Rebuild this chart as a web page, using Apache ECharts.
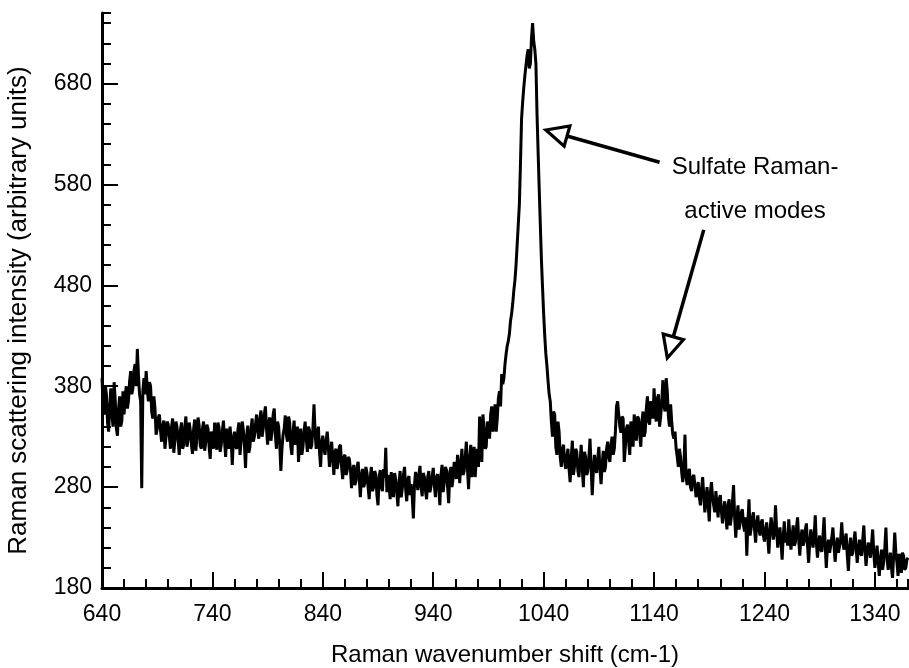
<!DOCTYPE html>
<html><head><meta charset="utf-8">
<script src="https://cdn.jsdelivr.net/npm/echarts@6/dist/echarts.min.js"></script>
<style>html,body{margin:0;padding:0;background:#fff}#c{width:909px;height:668px}</style>
</head><body><div id="c"></div>
<script>
// Raman shift (cm-1), one sample per wavenumber
const shift = [
640,641,642,643,644,645,646,647,648,649,650,651,652,653,654,655,656,657,658,659,
660,661,662,663,664,665,666,667,668,669,670,671,672,673,674,675,676,677,678,679,
680,681,682,683,684,685,686,687,688,689,690,691,692,693,694,695,696,697,698,699,
700,701,702,703,704,705,706,707,708,709,710,711,712,713,714,715,716,717,718,719,
720,721,722,723,724,725,726,727,728,729,730,731,732,733,734,735,736,737,738,739,
740,741,742,743,744,745,746,747,748,749,750,751,752,753,754,755,756,757,758,759,
760,761,762,763,764,765,766,767,768,769,770,771,772,773,774,775,776,777,778,779,
780,781,782,783,784,785,786,787,788,789,790,791,792,793,794,795,796,797,798,799,
800,801,802,803,804,805,806,807,808,809,810,811,812,813,814,815,816,817,818,819,
820,821,822,823,824,825,826,827,828,829,830,831,832,833,834,835,836,837,838,839,
840,841,842,843,844,845,846,847,848,849,850,851,852,853,854,855,856,857,858,859,
860,861,862,863,864,865,866,867,868,869,870,871,872,873,874,875,876,877,878,879,
880,881,882,883,884,885,886,887,888,889,890,891,892,893,894,895,896,897,898,899,
900,901,902,903,904,905,906,907,908,909,910,911,912,913,914,915,916,917,918,919,
920,921,922,923,924,925,926,927,928,929,930,931,932,933,934,935,936,937,938,939,
940,941,942,943,944,945,946,947,948,949,950,951,952,953,954,955,956,957,958,959,
960,961,962,963,964,965,966,967,968,969,970,971,972,973,974,975,976,977,978,979,
980,981,982,983,984,985,986,987,988,989,990,991,992,993,994,995,996,997,998,999,
1000,1001,1002,1003,1004,1005,1006,1007,1008,1009,1010,1011,1012,1013,1014,1015,1016,1017,1018,1019,
1020,1021,1022,1023,1024,1025,1026,1027,1028,1029,1030,1031,1032,1033,1034,1035,1036,1037,1038,1039,
1040,1041,1042,1043,1044,1045,1046,1047,1048,1049,1050,1051,1052,1053,1054,1055,1056,1057,1058,1059,
1060,1061,1062,1063,1064,1065,1066,1067,1068,1069,1070,1071,1072,1073,1074,1075,1076,1077,1078,1079,
1080,1081,1082,1083,1084,1085,1086,1087,1088,1089,1090,1091,1092,1093,1094,1095,1096,1097,1098,1099,
1100,1101,1102,1103,1104,1105,1106,1107,1108,1109,1110,1111,1112,1113,1114,1115,1116,1117,1118,1119,
1120,1121,1122,1123,1124,1125,1126,1127,1128,1129,1130,1131,1132,1133,1134,1135,1136,1137,1138,1139,
1140,1141,1142,1143,1144,1145,1146,1147,1148,1149,1150,1151,1152,1153,1154,1155,1156,1157,1158,1159,
1160,1161,1162,1163,1164,1165,1166,1167,1168,1169,1170,1171,1172,1173,1174,1175,1176,1177,1178,1179,
1180,1181,1182,1183,1184,1185,1186,1187,1188,1189,1190,1191,1192,1193,1194,1195,1196,1197,1198,1199,
1200,1201,1202,1203,1204,1205,1206,1207,1208,1209,1210,1211,1212,1213,1214,1215,1216,1217,1218,1219,
1220,1221,1222,1223,1224,1225,1226,1227,1228,1229,1230,1231,1232,1233,1234,1235,1236,1237,1238,1239,
1240,1241,1242,1243,1244,1245,1246,1247,1248,1249,1250,1251,1252,1253,1254,1255,1256,1257,1258,1259,
1260,1261,1262,1263,1264,1265,1266,1267,1268,1269,1270,1271,1272,1273,1274,1275,1276,1277,1278,1279,
1280,1281,1282,1283,1284,1285,1286,1287,1288,1289,1290,1291,1292,1293,1294,1295,1296,1297,1298,1299,
1300,1301,1302,1303,1304,1305,1306,1307,1308,1309,1310,1311,1312,1313,1314,1315,1316,1317,1318,1319,
1320,1321,1322,1323,1324,1325,1326,1327,1328,1329,1330,1331,1332,1333,1334,1335,1336,1337,1338,1339,
1340,1341,1342,1343,1344,1345,1346,1347,1348,1349,1350,1351,1352,1353,1354,1355,1356,1357,1358,1359,
1360,1361,1362,1363,1364,1365,1366,1367,1368,1369,1370
];
// Raman scattering intensity (arbitrary units)
const intensity = [
388,362,352,381,372,344,335,360,378,352,340,384,366,338,331,358,370,340,346,375,
352,371,380,358,366,385,395,372,378,396,402,380,417,392,372,365,279,375,388,372,
395,378,365,384,380,355,348,370,358,332,338,349,352,336,325,340,346,318,330,345,
342,330,318,340,348,314,326,345,339,325,312,336,344,318,322,340,350,320,328,344,
336,322,313,338,347,316,330,349,341,321,318,338,345,316,325,342,338,320,308,335,
332,318,344,328,317,344,339,315,322,336,346,325,310,338,330,318,340,326,302,328,
335,320,318,336,344,312,326,345,337,322,299,330,341,314,320,338,348,325,330,342,
352,336,328,348,356,330,338,352,360,338,322,345,349,326,335,352,358,332,318,345,
340,322,296,318,332,338,351,332,325,350,344,320,312,335,346,322,330,340,305,328,
338,312,320,335,345,328,315,340,336,318,322,338,362,335,318,332,340,315,300,325,
331,318,312,326,335,320,300,312,325,308,292,315,318,298,305,320,322,300,288,310,
312,292,296,310,308,298,279,295,302,282,286,300,305,288,270,292,298,280,284,300,
294,280,268,290,300,276,280,296,292,272,262,290,297,280,276,298,289,319,275,292,
281,268,295,280,270,294,288,275,261,284,296,270,279,292,300,278,266,288,291,272,
283,270,249,282,295,288,277,292,301,280,271,294,290,276,268,290,296,275,281,290,
299,282,270,290,293,280,262,292,302,275,285,300,297,280,264,295,300,280,289,305,
298,288,312,300,284,305,318,292,296,310,325,298,278,308,322,290,305,320,290,308,
318,300,350,328,305,352,338,318,320,345,340,328,352,360,335,342,362,335,348,368,
375,360,392,382,388,402,412,420,425,432,445,452,462,475,485,500,520,540,560,600,
645,662,676,688,698,708,714,695,700,725,740,722,714,700,650,612,575,540,505,478,
452,430,412,400,385,372,365,345,330,355,352,320,312,345,335,310,300,318,322,305,
298,310,318,298,285,310,326,292,301,318,315,296,290,305,322,298,280,315,310,292,
296,310,328,300,272,295,312,300,294,308,320,298,283,302,316,295,300,318,325,310,
305,322,330,312,318,335,360,365,352,340,334,350,348,305,320,338,342,325,312,345,
338,320,352,340,326,350,348,332,320,345,355,330,335,358,370,345,342,365,362,348,
378,355,345,368,372,340,350,365,386,360,355,388,375,350,340,362,345,332,328,335,
318,310,300,318,310,295,285,300,332,290,282,295,298,280,276,290,292,282,270,278,
285,270,262,278,290,272,255,268,280,262,246,275,285,270,262,255,276,262,250,268,
272,256,244,258,266,252,238,262,268,242,250,265,282,250,230,248,262,238,245,255,
258,242,236,250,212,245,268,232,240,250,255,238,225,245,252,238,232,245,248,232,
226,238,245,230,214,236,250,240,228,235,262,238,220,232,240,225,208,232,246,225,
235,222,248,232,218,230,242,222,225,240,250,228,212,230,238,222,226,238,244,222,
205,225,238,228,220,232,252,225,210,224,232,218,216,232,250,222,200,220,228,215,
222,230,240,222,206,220,230,215,214,228,245,225,218,228,234,212,197,220,230,212,
215,226,236,220,205,218,228,215,212,228,242,218,202,215,225,220,210,224,238,215,
200,212,222,205,192,208,218,198,206,220,240,210,198,205,215,200,190,212,235,215,
205,192,214,205,195,215,212,198,200,208,210
];
const annotationText = ['Sulfate Raman-', 'active modes'];
// arrows: [tail, tip] in data coordinates
const arrows = [
  [[1145, 602], [1042, 634]],
  [[1185, 535], [1152, 408]]
];

const FONT = '"Liberation Sans", Arial, Helvetica, sans-serif';
const chart = echarts.init(document.getElementById('c'));
const series = shift.map((x, i) => [x, intensity[i]]);

const baseAxis = {
  type: 'value',
  splitLine: { show: false },
  axisLine: { show: true, lineStyle: { color: '#000', width: 3 } },
  axisTick: { show: true, inside: true, length: 16, lineStyle: { color: '#000', width: 2 } },
  axisLabel: { color: '#000', fontSize: 23, fontFamily: FONT, showMaxLabel: false,
    formatter: v => String(v) }
};
const minorAxis = {
  type: 'value',
  splitLine: { show: false },
  axisLine: { show: false },
  axisTick: { show: true, inside: true, length: 9, lineStyle: { color: '#000', width: 2 } },
  axisLabel: { show: false }
};

chart.setOption({
  animation: false,
  backgroundColor: '#fff',
  grid: { left: 102, right: 1, top: 13, bottom: 80, containLabel: false, outerBoundsMode: 'none' },
  xAxis: [
    Object.assign({}, baseAxis, {
      min: 640, max: 1370, interval: 100, position: 'bottom',
      axisLabel: Object.assign({}, baseAxis.axisLabel, { margin: 15 }),
      name: 'Raman wavenumber shift (cm-1)', nameLocation: 'middle', nameGap: 55,
      nameTextStyle: { color: '#000', fontSize: 24, fontFamily: FONT }
    }),
    Object.assign({}, minorAxis, { min: 640, max: 1370, interval: 20, position: 'bottom' })
  ],
  yAxis: [
    Object.assign({}, baseAxis, {
      min: 180, max: 750, interval: 100, position: 'left',
      axisLabel: Object.assign({}, baseAxis.axisLabel, { margin: 10 }),
      name: 'Raman scattering intensity (arbitrary units)', nameLocation: 'middle', nameGap: 70,
      nameTextStyle: { color: '#000', fontSize: 26, fontFamily: FONT, padding: [0, 20, 0, 0] }
    }),
    Object.assign({}, minorAxis, { min: 180, max: 750, interval: 20, position: 'left' })
  ],
  series: [{
    type: 'line',
    data: series,
    xAxisIndex: 0, yAxisIndex: 0,
    showSymbol: false,
    clip: false,
    lineStyle: { color: '#000', width: 3 },
    z: 3
  }]
});

function drawAnnotations() {
  const g = [];
  arrows.forEach(([tail, tip]) => {
    const p0 = chart.convertToPixel({ gridIndex: 0 }, tail);
    const p1 = chart.convertToPixel({ gridIndex: 0 }, tip);
    const dx = p1[0] - p0[0], dy = p1[1] - p0[1];
    const len = Math.hypot(dx, dy);
    const ux = dx / len, uy = dy / len;
    const headLen = 22, halfW = 10.5;
    const bx = p1[0] - ux * headLen, by = p1[1] - uy * headLen;
    g.push({ type: 'line', shape: { x1: p0[0], y1: p0[1], x2: bx, y2: by },
      style: { stroke: '#000', lineWidth: 3.5 }, z: 10 });
    g.push({ type: 'polygon', shape: { points: [
        [p1[0], p1[1]],
        [bx - uy * halfW, by + ux * halfW],
        [bx + uy * halfW, by - ux * halfW]
      ] }, style: { fill: '#fff', stroke: '#000', lineWidth: 3.2, lineJoin: 'miter' }, z: 11 });
  });
  g.push({ type: 'text', z: 12, style: { text: annotationText[0], x: 755, y: 167,
    align: 'center', verticalAlign: 'middle', fill: '#000', fontSize: 24, fontFamily: FONT } });
  g.push({ type: 'text', z: 12, style: { text: annotationText[1], x: 755, y: 211,
    align: 'center', verticalAlign: 'middle', fill: '#000', fontSize: 24, fontFamily: FONT } });
  chart.setOption({ graphic: g });
}
drawAnnotations();
</script>
</body></html>
